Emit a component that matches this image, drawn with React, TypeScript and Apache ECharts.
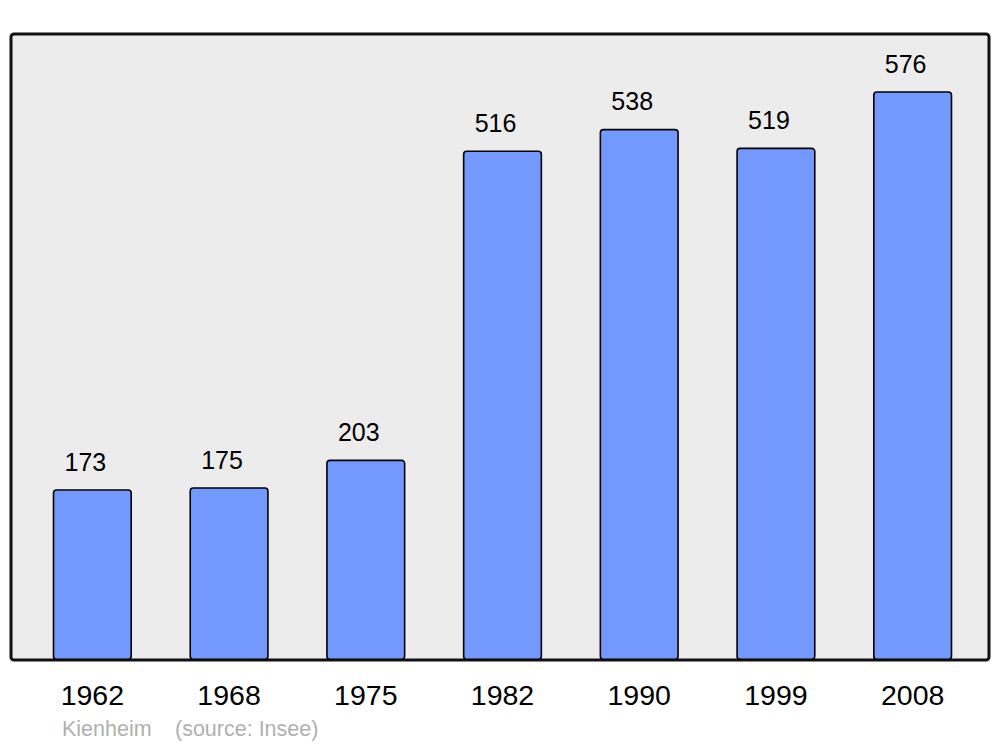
import React, { useEffect, useRef } from "react";
import * as echarts from "echarts";

const years = ["1962", "1968", "1975", "1982", "1990", "1999", "2008"];
const population = [173, 175, 203, 516, 538, 519, 576];
const footerName = "Kienheim";
const footerSource = "(source: Insee)";

export default function App() {
  const ref = useRef<HTMLDivElement>(null);
  useEffect(() => {
    if (!ref.current) return;
    const chart = echarts.init(ref.current, null, { renderer: "svg" });
    chart.setOption({
      animation: false,
      backgroundColor: "#ffffff",
      textStyle: { fontFamily: "Liberation Sans" },
      grid: { left: 24, right: 19, top: 34, bottom: 87, containLabel: false },
      graphic: [
        {
          type: "rect",
          z: 0,
          shape: { x: 11, y: 34, width: 978, height: 626, r: 3 },
          style: { fill: "#ececec", stroke: "#111111", lineWidth: 3 },
          silent: true,
        },
        {
          type: "text",
          left: 62,
          top: 718,
          style: { text: footerName, fill: "#b0b0b0", font: "21.5px 'Liberation Sans'" },
        },
        {
          type: "text",
          left: 175,
          top: 718,
          style: { text: footerSource, fill: "#b0b0b0", font: "21.5px 'Liberation Sans'" },
        },
      ],
      xAxis: {
        type: "category",
        data: years,
        axisLine: { show: false },
        axisTick: { show: false },
        axisLabel: { color: "#000", fontSize: 28.5, margin: 20, fontFamily: "Liberation Sans" },
      },
      yAxis: {
        type: "value",
        min: 0,
        max: 634,
        show: false,
        splitLine: { show: false },
      },
      series: [
        {
          type: "bar",
          data: population,
          barWidth: "58%",
          z: 3,
          itemStyle: {
            color: "#7399ff",
            borderColor: "#000000",
            borderWidth: 1.6,
            borderRadius: 3,
          },
          label: {
            show: true,
            position: "top",
            distance: 15,
            offset: [-7, 0],
            color: "#000",
            fontSize: 25,
            fontFamily: "Liberation Sans",
          },
        },
      ],
    });
    return () => chart.dispose();
  }, []);
  return <div ref={ref} style={{ width: 1000, height: 747, position: "absolute", left: 0, top: 0 }} />;
}
